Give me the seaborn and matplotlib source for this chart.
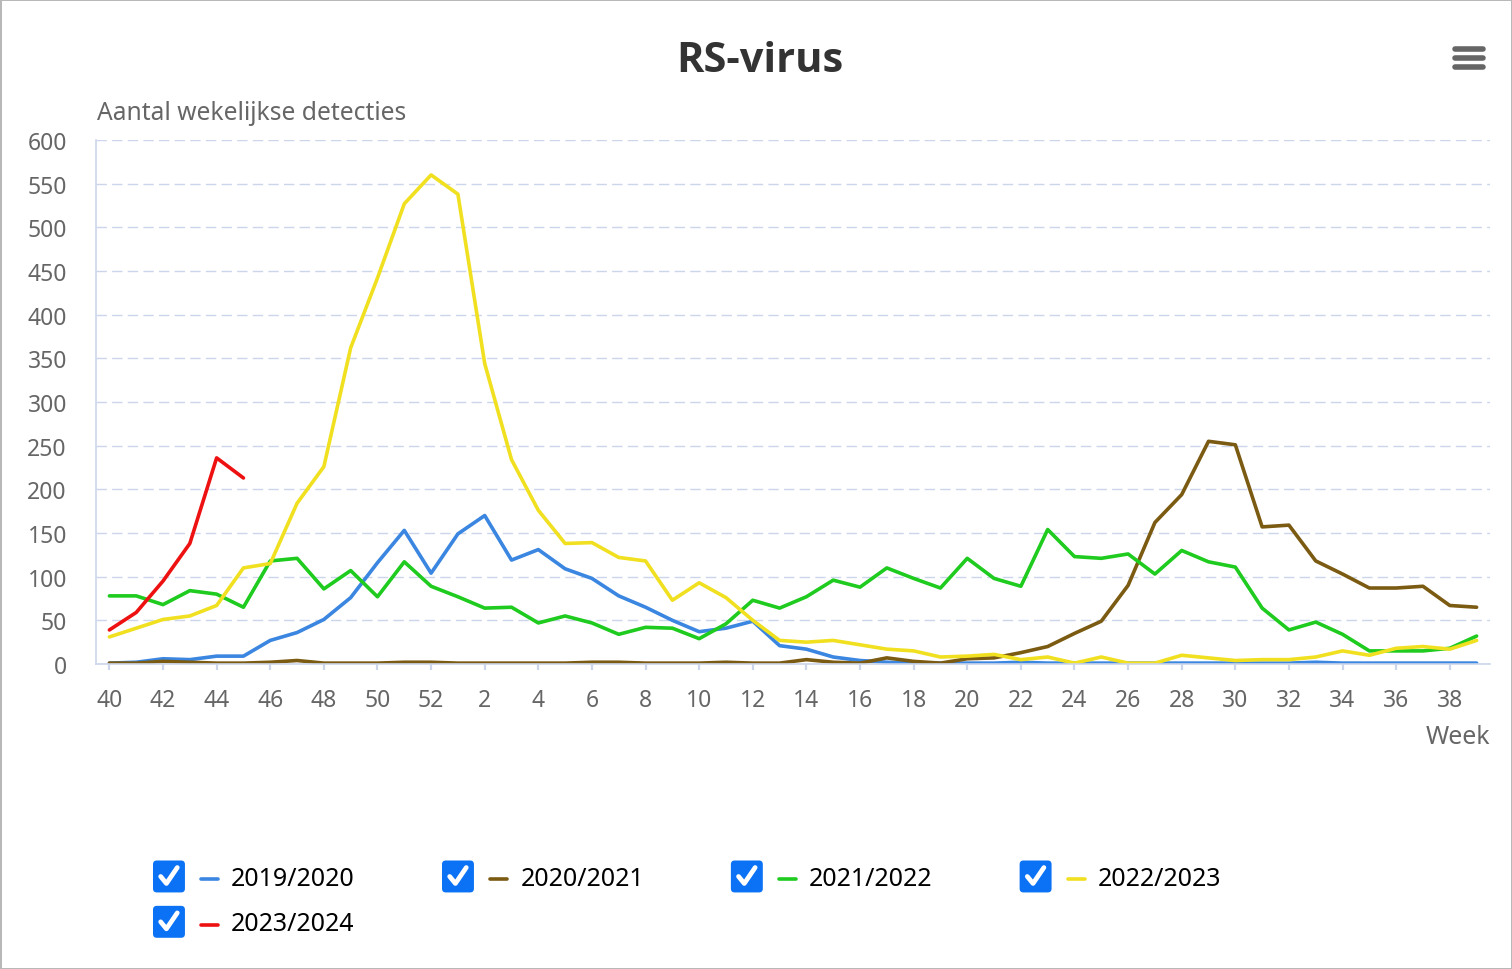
import numpy as np
import pandas as pd
import matplotlib.pyplot as plt
import seaborn as sns
from matplotlib.lines import Line2D
from matplotlib.patches import FancyBboxPatch
from matplotlib.legend_handler import HandlerBase

sns.set_theme(style='white')
plt.rcParams['font.family'] = ['Noto Sans', 'DejaVu Sans']

# Data: weekly RSV detections per season (week 40 .. week 39)
weeks = list(range(40, 53)) + list(range(1, 40))
seasons = ['2019/2020', '2020/2021', '2021/2022', '2022/2023', '2023/2024']
colors = ['#3a86e0', '#7b5a12', '#1ecb1e', '#f0e020', '#ee1111']

s2019 = [1, 2, 6, 5, 9, 9, 27, 36, 51, 76, 116, 153, 104, 149, 170,
         119, 131, 109, 98, 78, 65, 50, 37, 41, 49, 21, 17, 8,
         4, 2, 1, 1, 1, 1, 2, 1, 1, 1, 1, 1, 1, 1, 1, 1, 1, 2, 1, 1, 1, 1, 1, 1]
s2020 = [1, 1, 3, 2, 1, 1, 2, 4, 1, 1, 1, 2, 2, 1, 1, 1, 1, 1, 2, 2, 1, 1, 1, 2, 1, 1,
         5, 2, 1, 7, 3, 1, 6, 7, 13, 20, 35, 49, 90, 162, 194, 255, 251, 157, 159, 118,
         103, 87, 87, 89, 67, 65]
s2021 = [78, 78, 68, 84, 80, 65, 118, 121, 86, 107, 77, 117, 89, 77, 64,
         65, 47, 55, 47, 34, 42, 41, 29, 46, 73, 64, 77, 96,
         88, 110, 98, 87, 121, 98, 89, 154, 123, 121, 126, 103, 130, 117,
         111, 64, 39, 48, 34, 15, 15, 15, 18, 32]
s2022 = [31, 41, 51, 55, 67, 110, 115, 184, 226, 362, 442, 527, 560, 538,
         344, 234, 176, 138, 139, 122, 118, 73, 93, 76, 50, 27, 25, 27,
         22, 17, 15, 8, 9, 11, 5, 8, 1, 8, 1, 1, 10, 7,
         4, 5, 5, 8, 15, 10, 18, 20, 17, 27]
s2023 = [39, 59, 95, 138, 236, 213]

series = [s2019, s2020, s2021, s2022, s2023]
rows = []
for name, vals in zip(seasons, series):
    for i, v in enumerate(vals):
        rows.append({'pos': i, 'week': weeks[i], 'season': name, 'value': v})
df = pd.DataFrame(rows)

grid_col = '#ccd6eb'
text_col = '#666666'

fig = plt.figure(figsize=(15.12, 9.70), dpi=100)
fig.patch.set_edgecolor('#b8b8b8')
fig.patch.set_linewidth(2)
ax = fig.add_axes([96 / 1512, 1 - 665 / 970, (1490 - 96) / 1512, (665 - 141) / 970])

sns.lineplot(data=df, x='pos', y='value', hue='season', palette=dict(zip(seasons, colors)),
             estimator=None, linewidth=2.6, legend=False, ax=ax)

ax.set_xlim(-0.5, len(weeks) - 0.5)
ax.set_ylim(0, 600)
ax.set_yticks(np.arange(0, 601, 50))
ax.set_xticks(range(0, len(weeks), 2))
ax.set_xticklabels([str(w) for w in weeks[::2]])
ax.yaxis.grid(True, color=grid_col, linestyle=(0, (7.5, 3.75)), linewidth=1)
ax.set_axisbelow(True)
ax.set_xlabel('')
ax.set_ylabel('')
for s in ['top', 'right']:
    ax.spines[s].set_visible(False)
for s in ['left', 'bottom']:
    ax.spines[s].set_color(grid_col)
    ax.spines[s].set_linewidth(1.2)
ax.tick_params(axis='y', length=0, pad=21, labelsize=16.5, labelcolor=text_col)
ax.tick_params(axis='x', length=4, width=1.6, color=grid_col, pad=13, labelsize=16.5,
               labelcolor=text_col, bottom=True)

fig.text(760 / 1512, 1 - 62 / 970, 'RS-virus', ha='center', va='center',
         fontsize=30, fontweight='bold', color='#333333', family=['Open Sans', 'DejaVu Sans'])
fig.text(97 / 1512, 1 - 113 / 970, 'Aantal wekelijkse detecties', ha='left', va='center',
         fontsize=17.7, color=text_col)
fig.text(1490 / 1512, 1 - 738 / 970, 'Week', ha='right', va='center',
         fontsize=18, color=text_col)

# hamburger menu icon
for yy in [50, 59, 68]:
    fig.add_artist(Line2D([1455 / 1512, 1483 / 1512], [1 - yy / 970, 1 - yy / 970],
                          transform=fig.transFigure, color='#666666', linewidth=4,
                          solid_capstyle='round'))


class CheckHandler(HandlerBase):
    def create_artists(self, legend, orig_handle, xdescent, ydescent, width, height,
                       fontsize, trans):
        cb = 23.0
        x0 = -xdescent
        yc = height / 2 - ydescent
        y0 = yc - cb / 2
        box = FancyBboxPatch((x0, y0), cb, cb,
                             boxstyle='round,pad=0,rounding_size=%f' % (cb * 0.12),
                             facecolor='#0b72f5', edgecolor='none', transform=trans)
        check = Line2D([x0 + 0.24 * cb, x0 + 0.42 * cb, x0 + 0.76 * cb],
                       [y0 + 0.50 * cb, y0 + 0.28 * cb, y0 + 0.78 * cb],
                       color='white', linewidth=3.4, solid_capstyle='round',
                       solid_joinstyle='round', transform=trans)
        mark = Line2D([x0 + cb + 11.5, x0 + cb + 23.8], [yc - 2, yc - 2],
                      color=orig_handle.get_color(), linewidth=2.6, transform=trans)
        return [box, check, mark]


# legend fills column-wise, so reorder to read row-wise
order = [0, 4, 1, 2, 3]
handles = [Line2D([], [], color=colors[k]) for k in order]
labels = [seasons[k] for k in order]
fig.legend(handles, labels, handler_map={Line2D: CheckHandler()},
           loc='upper left', bbox_to_anchor=(153 / 1512, 1 - 864 / 970),
           ncol=4, frameon=False, fontsize=18, handlelength=2.61, handleheight=1.28,
           handletextpad=0.52, columnspacing=3.48, labelspacing=0.7,
           borderpad=0, borderaxespad=0, labelcolor='black')

fig.savefig('out.png', dpi=100)
